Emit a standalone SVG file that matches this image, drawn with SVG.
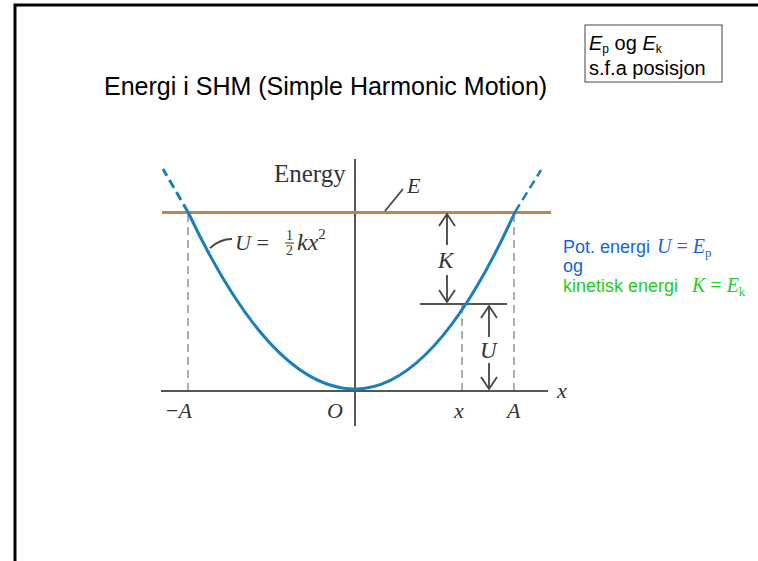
<svg xmlns="http://www.w3.org/2000/svg" width="758" height="561" viewBox="0 0 758 561">
<style>
.sans{font-family:"Liberation Sans",Arial,sans-serif}
.serif{font-family:"Liberation Serif","Times New Roman",serif}
.it{font-style:italic}
.axis{stroke:#555;stroke-width:2;fill:none}
.dash{stroke:#9a9a9a;stroke-width:1.6;stroke-dasharray:8 5;fill:none}
.arr{stroke:#444;stroke-width:1.8;fill:none}
.lbl{fill:#333}
</style>
<rect width="758" height="561" fill="#fff"/>
<g id="frame">
<path d="M15,561 V5 H758" fill="none" stroke="#000" stroke-width="3"/>
</g>
<g id="title">
<text x="104" y="95" class="sans" font-size="25" fill="#000">Energi i SHM (Simple Harmonic Motion)</text>
</g>
<g id="box">
<rect x="585" y="25" width="137" height="57" fill="#fff" stroke="#444" stroke-width="1"/>
<text x="589" y="50" class="sans" font-size="20" fill="#000"><tspan class="it">E</tspan><tspan font-size="12" dy="3">p</tspan><tspan dy="-3"> og </tspan><tspan class="it">E</tspan><tspan font-size="12" dy="3">k</tspan></text>
<text x="589" y="75" class="sans" font-size="20" fill="#000">s.f.a posisjon</text>
</g>
<g id="connectors">
<line x1="355" y1="159" x2="355" y2="426" class="axis"/>
<line x1="161" y1="391" x2="548" y2="391" class="axis"/>
<line x1="188" y1="214" x2="188" y2="390" class="dash"/>
<line x1="514" y1="214" x2="514" y2="390" class="dash"/>
<line x1="462" y1="305" x2="462" y2="390" class="dash"/>
<line x1="420" y1="304" x2="507" y2="304" class="axis"/>
<line x1="162" y1="212.5" x2="551" y2="212.5" stroke="#b58a4c" stroke-width="3"/>
<path d="M188,212 Q271.5,389 355,389 Q435,389 515,212" fill="none" stroke="#1b7fb8" stroke-width="3"/>
<line x1="188" y1="212" x2="163" y2="169" stroke="#1b7fb8" stroke-width="3" stroke-dasharray="9 5"/>
<line x1="515" y1="212" x2="541" y2="170" stroke="#1b7fb8" stroke-width="2.5" stroke-dasharray="9 5"/>
<path d="M447,245 V214 M439,226 L447,214 L455,226" class="arr"/>
<path d="M447,275 V302 M439,290 L447,302 L455,290" class="arr"/>
<path d="M489,337 V306 M481,318 L489,306 L497,318" class="arr"/>
<path d="M489,363 V389 M481,377 L489,389 L497,377" class="arr"/>
<path d="M210,248 Q220,239 232,239" class="arr"/>
<line x1="385" y1="211" x2="403" y2="189" class="arr"/>
</g>
<g id="labels" class="serif lbl">
<text x="274" y="182" font-size="25">Energy</text>
<text x="407" y="193" font-size="22" class="it">E</text>
<text x="235" y="250" font-size="22"><tspan class="it">U</tspan> =</text>
<text x="286" y="240" font-size="14">1</text>
<line x1="285" y1="243" x2="294" y2="243" stroke="#333" stroke-width="1"/>
<text x="286" y="255" font-size="14">2</text>
<text x="297" y="250" font-size="24"><tspan class="it">kx</tspan><tspan font-size="15" dy="-11">2</tspan></text>
<text x="438" y="268" font-size="23" class="it">K</text>
<text x="480" y="358" font-size="23" class="it">U</text>
<text x="166" y="418" font-size="22">−<tspan class="it">A</tspan></text>
<text x="327" y="418" font-size="22" class="it">O</text>
<text x="454" y="418" font-size="22" class="it">x</text>
<text x="507" y="418" font-size="22" class="it">A</text>
<text x="557" y="398" font-size="22" class="it">x</text>
</g>
<g id="legend">
<text x="563" y="253" class="sans" font-size="18" fill="#1565d8">Pot. energi <tspan x="657" class="serif it" font-size="20">U</tspan><tspan class="serif" font-size="20"> = </tspan><tspan class="serif it" font-size="20">E</tspan><tspan class="serif" font-size="13" dy="4">p</tspan></text>
<text x="563" y="272" class="sans" font-size="18" fill="#1565d8">og</text>
<text x="563" y="292" class="sans" font-size="18" fill="#1fcc1f">kinetisk energi<tspan x="692" class="serif it" font-size="20">K</tspan><tspan class="serif" font-size="20"> = </tspan><tspan class="serif it" font-size="20">E</tspan><tspan class="serif" font-size="13" dy="4">k</tspan></text>
</g>
</svg>
